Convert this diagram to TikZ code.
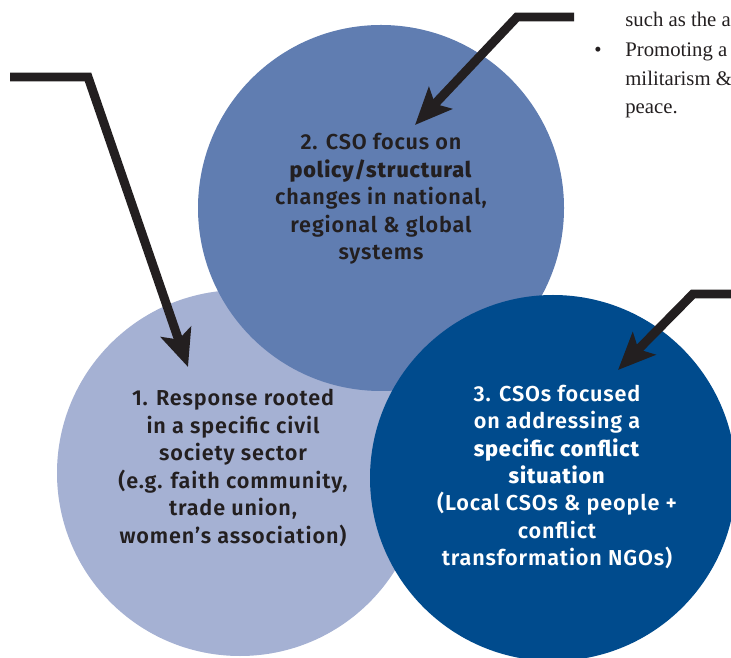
\documentclass[tikz,border=0pt]{standalone}
\usepackage{fontspec}
\usetikzlibrary{arrows.meta,positioning}

\newfontfamily\cirfont{Fira Sans}[UprightFont={* SemiBold},BoldFont={* ExtraBold},LetterSpace=4]
\newfontfamily\notefont{Liberation Serif}

\definecolor{sectorblue}{RGB}{165,177,211}
\definecolor{policyblue}{RGB}{96,125,177}
\definecolor{conflictblue}{RGB}{0,75,141}
\definecolor{inkgrey}{RGB}{35,31,32}

\tikzset{
  ring/.style={circle, minimum size=7.32cm, inner sep=0pt},
  ringtext/.style={align=center, inner sep=0pt, font=\cirfont\fontsize{12.3}{15.6}\selectfont},
  pointer/.style={line width=5.1pt, draw=inkgrey, line join=miter,
    -{Stealth[length=21pt,width=18pt,inset=4.5pt]}},
  note/.style={anchor=base west, inner sep=0pt, text=inkgrey,
    font=\notefont\fontsize{11.8}{16}\selectfont},
}

\begin{document}
\begin{tikzpicture}
  \useasboundingbox (0,0) rectangle (14.62,13.14);

  % three circles, light one first
  \node[ring, fill=sectorblue] (sector) at (4.80,3.68) {};
  \node[ring, fill=policyblue] (policy) at (7.62,8.98) {};
  \node[ring, fill=conflictblue] (conflict) at (11.06,3.58) {};

  % circle texts
  \node[ringtext, text=inkgrey] (policytxt) at (7.62,9.16)
    {2. CSO focus on\\ \textbf{policy/structural}\\ changes in national,\\
     regional \& global\\ systems};
  \node[ringtext, text=inkgrey] (sectortxt) at (4.66,3.78)
    {1. Response rooted\\ in a specific civil\\ society sector\\
     (e.g. faith community,\\ trade union,\\ women’s association)};
  \node[ringtext, text=white] (conflicttxt) at (11.14,3.60)
    {3. CSOs focused\\ on addressing a\\ \textbf{specific conflict}\\
     \textbf{situation}\\ (Local CSOs \& people +\\ conflict\\
     transformation NGOs)};

  % bullet text on the right
  \node[note] (suchas) at (12.50,12.60) {such as the a};
  \node[note] (promo) at (12.50,12.00) {Promoting a};
  \node[note] (milit) at (12.50,11.42) {militarism \&};
  \node[note] (peace) at (12.50,10.86) {peace.};
  \node[note, anchor=base] (dot) at (11.96,12.00) {\textbullet};

  % arrows
  \coordinate (leftstart) at (0.20,11.60);
  \coordinate (leftbend) at (1.76,11.60);
  \coordinate (lefttip) at (3.76,5.80);
  \coordinate (topstart) at (11.48,12.80);
  \coordinate (topbend) at (10.34,12.80);
  \coordinate (toptip) at (8.30,10.64);
  \coordinate (rightstart) at (14.70,7.26);
  \coordinate (rightbend) at (13.86,7.26);
  \coordinate (righttip) at (12.36,5.74);

  \draw[pointer] (leftstart) -- (leftbend) -- (lefttip);
  \draw[pointer] (topstart) -- (topbend) -- (toptip);
  \draw[pointer] (rightstart) -- (rightbend) -- (righttip);
\end{tikzpicture}
\end{document}
